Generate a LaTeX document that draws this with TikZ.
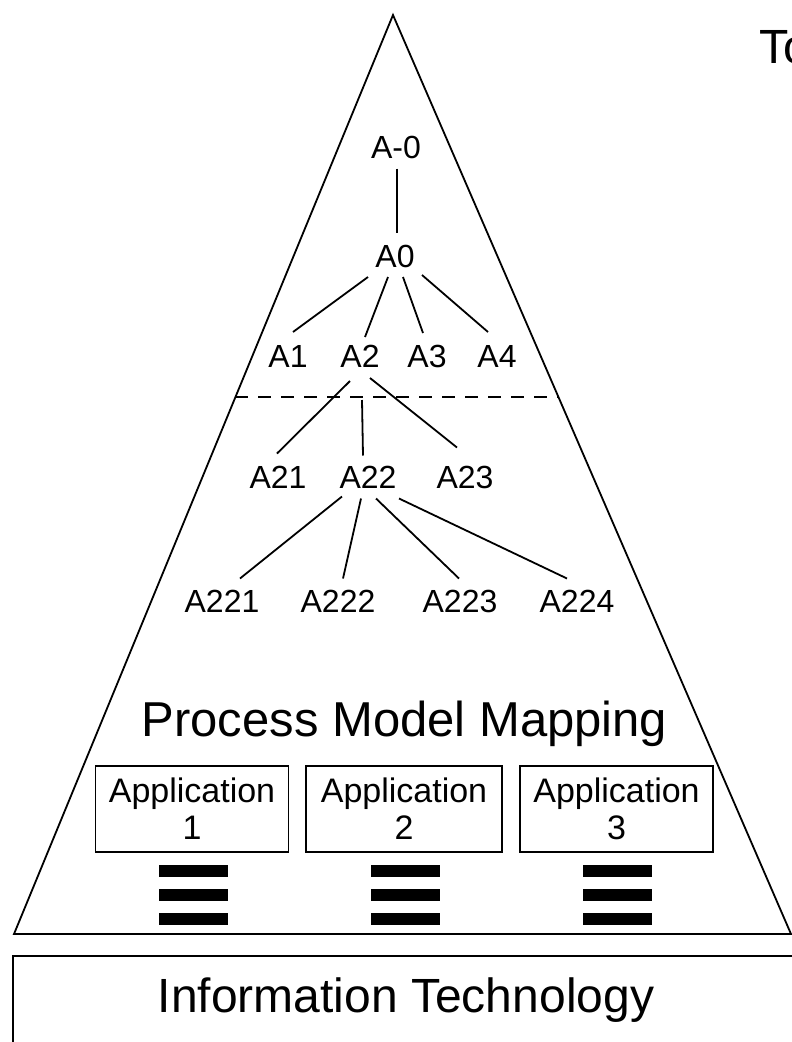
\documentclass[tikz,border=0pt]{standalone}
\usepackage{fontspec}
\setmainfont{Liberation Sans}
\begin{document}
\begin{tikzpicture}[x=1pt,y=-1pt,
  lbl/.style={inner sep=0pt,font=\fontsize{32}{38}\selectfont},
  edge/.style={line width=1.8pt},
  appbox/.style={draw,line width=1.8pt,minimum width=193pt,minimum height=86pt,inner sep=0pt,align=center,font=\fontsize{34}{37}\selectfont},
  bar/.style={fill=black},
  big/.style={inner sep=0pt,font=\fontsize{49}{56}\selectfont}]
\useasboundingbox (0,0) rectangle (792,1042);
% pyramid
\coordinate (apex) at (393,15);
\coordinate (bl) at (14,934);
\coordinate (br) at (791,934);
\draw[line width=1.8pt,line join=miter] (apex) -- (bl) -- (br) -- cycle;
% dashed separator
\coordinate (dl) at (235,397);
\coordinate (dr) at (558,397);
\draw[line width=1.8pt,dash pattern=on 13pt off 10pt] (dl) -- (dr);
% tree labels
\node[lbl] (Am0) at (396,147.5) {A-0};
\node[lbl] (A0) at (395,256) {A0};
\node[lbl] (A1) at (288,356) {A1};
\node[lbl] (A2) at (360,356) {A2};
\node[lbl] (A3) at (427,356) {A3};
\node[lbl] (A4) at (497,356) {A4};
\node[lbl] (A21) at (278,477.5) {A21};
\node[lbl] (A22) at (368,477.5) {A22};
\node[lbl] (A23) at (465,477.5) {A23};
\node[lbl] (A221) at (222,601.5) {A221};
\node[lbl] (A222) at (338,601.5) {A222};
\node[lbl] (A223) at (460,601.5) {A223};
\node[lbl] (A224) at (577,601.5) {A224};
% tree edges
\draw[edge] ([shift={(1,21)}]Am0.center) -- ([shift={(2,-23)}]A0.center);
\draw[edge] ([shift={(-27,21)}]A0.center) -- ([shift={(5,-24)}]A1.center);
\draw[edge] ([shift={(-7,21)}]A0.center) -- ([shift={(5,-19)}]A2.center);
\draw[edge] ([shift={(8,21)}]A0.center) -- ([shift={(-4,-23)}]A3.center);
\draw[edge] ([shift={(27,19)}]A0.center) -- ([shift={(-9,-24)}]A4.center);
\draw[edge] ([shift={(-10,25)}]A2.center) -- ([shift={(-1,-24)}]A21.center);
\draw[edge] ([shift={(2,44)}]A2.center) -- ([shift={(-5,-22)}]A22.center);
\draw[edge] ([shift={(10,22)}]A2.center) -- ([shift={(-8,-30)}]A23.center);
\draw[edge] ([shift={(-26,19)}]A22.center) -- ([shift={(18,-23)}]A221.center);
\draw[edge] ([shift={(-7,21)}]A22.center) -- ([shift={(5,-23)}]A222.center);
\draw[edge] ([shift={(8,21)}]A22.center) -- ([shift={(-1,-23)}]A223.center);
\draw[edge] ([shift={(31,21)}]A22.center) -- ([shift={(-10,-23)}]A224.center);
% mapping label
\node[big,anchor=base] (pmm) at (404.5,736) {Process Model Mapping};
% applications
\node[appbox] (app1) at (192,809) {Application\\1};
\node[appbox,minimum width=196pt] (app2) at (404,809) {Application\\2};
\node[appbox] (app3) at (616.5,809) {Application\\3};
\foreach \a in {app1,app2,app3}{
  \foreach \dy in {12,36,60}{
    \fill[bar] ([shift={(-33.5,\dy)}]\a.south) rectangle ([shift={(35.5,\dy+12.5)}]\a.south);
  }
}
% information technology box
\coordinate (itl) at (13,1060);
\coordinate (ittl) at (13,956);
\coordinate (ittr) at (810,956);
\draw[line width=2.4pt,line join=miter] (itl) -- (ittl) -- (ittr);
\node[big,anchor=base,font=\fontsize{48}{56}\selectfont] (it) at (406,1012) {Information Technology};
% cut-off heading (cut off at the right edge, as in the reference)
\node[big,anchor=base west,font=\fontsize{48}{56}\selectfont] (to) at (759,63) {To};
\end{tikzpicture}
\end{document}
